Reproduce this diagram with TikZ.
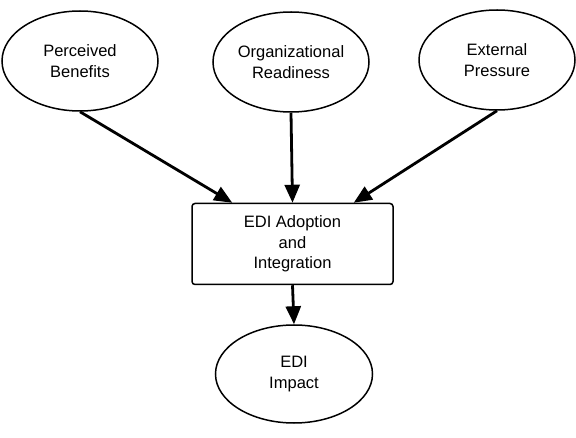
\documentclass[tikz,border=0pt]{standalone}
\usepackage{fontspec}
\setmainfont{Liberation Sans}
\usetikzlibrary{arrows.meta,shapes.geometric,calc}
\begin{document}
\begin{tikzpicture}[x=1pt,y=-1pt,
  ell/.style={draw,line width=1.5pt,ellipse,inner sep=0pt,align=center,font=\fontsize{16.5}{20.5}\selectfont},
  boxn/.style={draw,line width=1.5pt,rounded corners=3pt,inner sep=0pt,align=center,font=\fontsize{16.5}{20.5}\selectfont},
  arr/.style={line width=2.8pt,-{Triangle[length=18pt,width=15pt]}}]
\useasboundingbox (0,0) rectangle (576,438);
\node[ell,minimum width=156pt,minimum height=100pt] (pb) at (80,61) {Perceived\\Benefits};
\node[ell,minimum width=156pt,minimum height=100pt] (or) at (291,62) {Organizational\\Readiness};
\node[ell,minimum width=156pt,minimum height=100pt] (ep) at (497,60) {External\\Pressure};
\node[boxn,minimum width=201pt,minimum height=81pt] (ad) at (292.5,244) {EDI Adoption\\and\\Integration};
\node[ell,minimum width=157pt,minimum height=98pt] (im) at (294,374) {EDI\\Impact};
\coordinate (t1) at ($(ad.north west)+(41,0)$);
\coordinate (t3) at ($(ad.north east)+(-40,0)$);
\draw[arr] (pb.south) -- (t1);
\draw[arr] (or.south) -- (ad.north);
\draw[arr] (ep.south) -- (t3);
\draw[arr] (ad.south) -- (im.north);
\end{tikzpicture}
\end{document}
